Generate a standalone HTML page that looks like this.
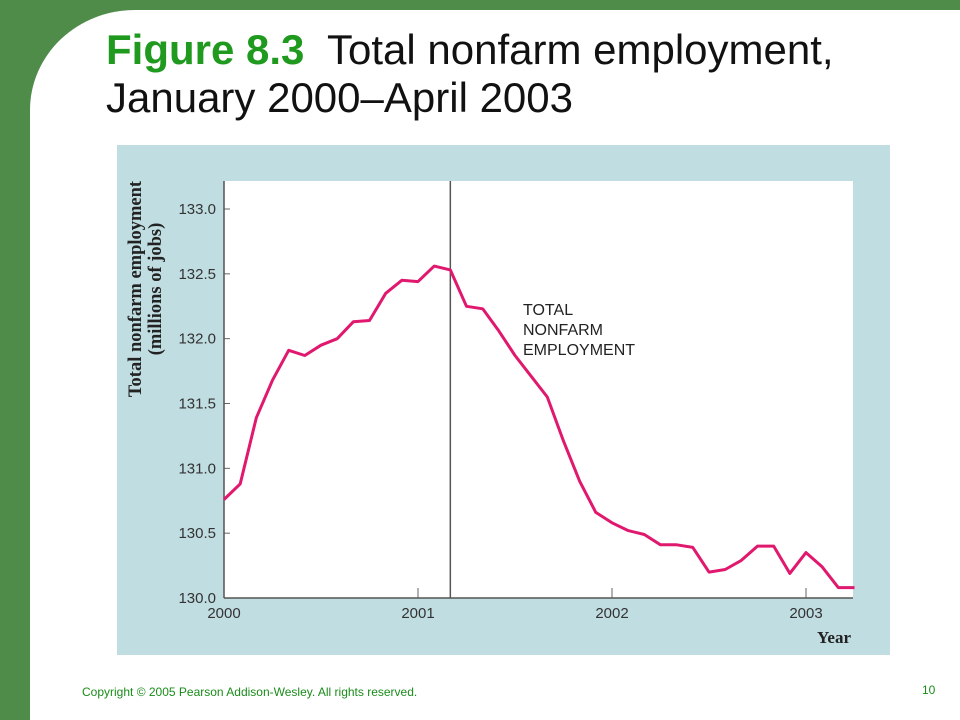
<!DOCTYPE html>
<html><head><meta charset="utf-8">
<style>
html,body{margin:0;padding:0;}
body{width:960px;height:720px;position:relative;overflow:hidden;background:#4f8c4a;font-family:"Liberation Sans",sans-serif;}
.white{position:absolute;left:30px;top:10px;width:930px;height:710px;background:#fff;border-top-left-radius:105px 100px;}
</style></head><body>
<div class="white"></div>
<div style="position:absolute;left:106px;top:26px;font-size:42px;line-height:48px;color:#111;white-space:nowrap;">
<span style="color:#1f9a1f;font-weight:bold;">Figure 8.3</span>&nbsp; Total nonfarm employment,<br>January 2000–April 2003</div>
<svg width="960" height="720" style="position:absolute;left:0;top:0">
<rect x="117" y="145" width="773" height="510" fill="#c0dde1"/>
<rect x="224" y="181" width="629" height="417" fill="#fff"/>
<g id="axes"></g>
<text x="141" y="289" transform="rotate(-90 141 289)" text-anchor="middle" font-family="Liberation Serif,serif" font-weight="bold" font-size="18.5" fill="#222">Total nonfarm employment</text>
<text x="161" y="289" transform="rotate(-90 161 289)" text-anchor="middle" font-family="Liberation Serif,serif" font-weight="bold" font-size="18.5" fill="#222">(millions of jobs)</text>
<text x="817" y="643" font-family="Liberation Serif,serif" font-weight="bold" font-size="17" fill="#222">Year</text>
<text font-family="Liberation Sans,sans-serif" font-size="16" fill="#222"><tspan x="523" y="315">TOTAL</tspan><tspan x="523" y="335">NONFARM</tspan><tspan x="523" y="355">EMPLOYMENT</tspan></text>
</svg>
<div style="position:absolute;left:82px;top:685px;font-size:12px;color:#1a8c1a;white-space:nowrap;">Copyright © 2005 Pearson Addison-Wesley. All rights reserved.</div>
<div style="position:absolute;left:922px;top:683px;font-size:12px;color:#1a8c1a;">10</div>
<script>
const values=[130.76,130.88,131.39,131.68,131.91,131.87,131.95,132.0,132.13,132.14,132.35,132.45,132.44,132.56,132.53,132.25,132.23,132.06,131.87,131.71,131.55,131.21,130.90,130.66,130.58,130.52,130.49,130.41,130.41,130.39,130.20,130.22,130.29,130.40,130.40,130.19,130.35,130.24,130.08,130.08];
const yTicks=["130.0","130.5","131.0","131.5","132.0","132.5","133.0"];
const xTicks=["2000","2001","2002","2003"];
const markerMonth=14;
const NS="http://www.w3.org/2000/svg";
const g=document.getElementById('axes');
const X0=224,Y0=598,MONTH=194/12,UNIT=(598-209)/3;
function xs(m){return X0+m*MONTH;}
function ys(v){return Y0-(v-130)*UNIT;}
function mk(t,a,parent){const e=document.createElementNS(NS,t);for(const k in a)e.setAttribute(k,a[k]);(parent||g).appendChild(e);return e;}
yTicks.forEach(t=>{const y=ys(parseFloat(t));
const l=mk('line',{x1:224,x2:230,y1:y,y2:y,stroke:'#666','stroke-width':1});


const tx=mk('text',{x:216,y:y+5,'text-anchor':'end','font-size':15,'font-family':'Liberation Sans,sans-serif',fill:'#333'});
tx.textContent=t;

});
xTicks.forEach((t,i)=>{const x=xs(i*12);
const l=mk('line',{x1:x,x2:x,y1:598,y2:588,stroke:'#666','stroke-width':1});


const tx=mk('text',{x:x,y:618,'text-anchor':'middle','font-size':15,'font-family':'Liberation Sans,sans-serif',fill:'#333'});
tx.textContent=t;

});
const ya=mk('line',{x1:224,x2:224,y1:181,y2:598,stroke:'#555','stroke-width':1.5});


const xa=mk('line',{x1:224,x2:853,y1:598,y2:598,stroke:'#555','stroke-width':1.5});


const vx=xs(markerMonth);
const vl=mk('line',{x1:vx,x2:vx,y1:181,y2:598,stroke:'#555','stroke-width':1.5});


const pts=values.map((v,i)=>xs(i).toFixed(1)+','+ys(v).toFixed(1)).join(' ');
const pl=mk('polyline',{points:pts,fill:'none',stroke:'#e0186e','stroke-width':3,'stroke-linejoin':'round'});


</script>
</body></html>
